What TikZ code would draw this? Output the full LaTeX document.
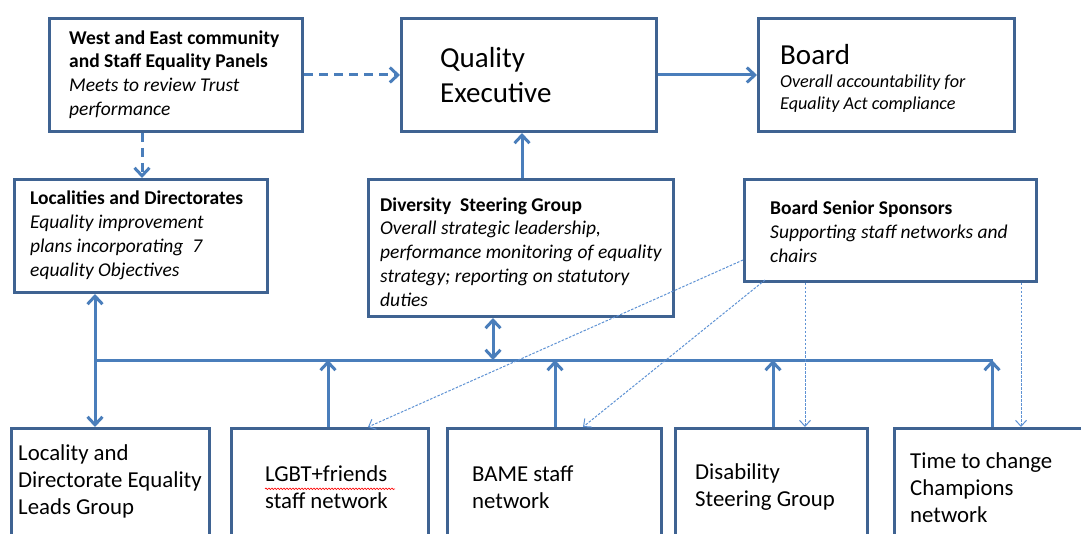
\documentclass[tikz,border=0pt]{standalone}
\usepackage{fontspec}
\setmainfont{Carlito}
\usetikzlibrary{arrows.meta,decorations.pathmorphing}
\definecolor{boxblue}{HTML}{3F6392}
\definecolor{linkblue}{HTML}{4A7EBB}
\definecolor{thinblue}{HTML}{5E92D4}
\begin{document}
\begin{tikzpicture}[x=1pt,y=-1pt,
  panel/.style={draw=boxblue,line width=3pt,fill=white,inner sep=0pt,anchor=north west},
  txt/.style={inner sep=0pt,anchor=west,align=left,font=\fontsize{19.5}{23.8}\selectfont},
  bigtxt/.style={inner sep=0pt,anchor=west,align=left,font=\fontsize{29}{35}\selectfont},
  lowtxt/.style={inner sep=0pt,anchor=west,align=left,font=\fontsize{22.8}{27}\selectfont},
  link/.style={draw=linkblue,line width=3pt,-{Straight Barb[length=8pt,width=15pt]}},
  twoway/.style={link,{Straight Barb[length=8pt,width=15pt]}-{Straight Barb[length=8pt,width=15pt]}},
  dashlink/.style={link,dash pattern=on 9pt off 6pt},
  sponsor/.style={draw=thinblue,line width=1pt,dash pattern=on 2.5pt off 1.5pt,
    -{Straight Barb[length=6pt,width=11pt,line width=1pt]}}
]
\useasboundingbox (0,0) rectangle (1081,534);
\fill[white] (0,0) rectangle (1081,534);
\clip (0,0) rectangle (1081,534);

% top row
\node[panel,minimum width=253pt,minimum height=113pt] (we) at (48,17) {};
\node[panel,minimum width=255pt,minimum height=113pt] (qe) at (400,17) {};
\node[panel,minimum width=256pt,minimum height=113pt] (bd) at (757,17) {};
% middle row
\node[panel,minimum width=253pt,minimum height=113pt] (loc) at (13,178) {};
\node[panel,minimum width=305pt,minimum height=137pt] (div) at (367,178) {};
\node[panel,minimum width=292pt,minimum height=102pt] (bss) at (743,178) {};
% bottom row (runs off the lower edge)
\node[panel,minimum width=198pt,minimum height=140pt] (g1) at (10,427) {};
\node[panel,minimum width=197pt,minimum height=140pt] (g2) at (230,427) {};
\node[panel,minimum width=214pt,minimum height=140pt] (g3) at (446,427) {};
\node[panel,minimum width=192pt,minimum height=140pt] (g4) at (674,427) {};
\node[panel,minimum width=200pt,minimum height=140pt] (g5) at (893,427) {};

% texts
\node[txt] (weT) at (69,74.5) {\textbf{West and East community}\\\textbf{and Staff Equality Panels}\\\textit{Meets to review Trust}\\\textit{performance}};
\node[bigtxt] (qeT) at (440,75.5) {Quality\\Executive};
\node[bigtxt] (bdT) at (780,55) {Board};
\node[txt,font=\fontsize{18.2}{22}\selectfont\itshape] (bdS) at (780,94) {Overall accountability for\\Equality Act compliance};
\node[txt] (locT) at (30,235.5) {\textbf{Localities and Directorates}\\\textit{Equality improvement}\\\textit{plans incorporating\ \ 7}\\\textit{equality Objectives}};
\node[txt] (divT) at (380,252) {\textbf{Diversity\ \ Steering Group}\\\textit{Overall strategic leadership,}\\\textit{performance monitoring of equality}\\\textit{strategy;\ reporting on statutory}\\\textit{duties}};
\node[txt] (bssT) at (770,232) {\textbf{Board Senior Sponsors}\\\textit{Supporting staff networks and}\\\textit{chairs}};
\node[lowtxt] (g1T) at (18,481) {Locality and\\Directorate Equality\\Leads Group};
\node[lowtxt] (g2T) at (265,487.5) {LGBT+friends\\staff network};
\node[lowtxt] (g3T) at (472,487.5) {BAME staff\\network};
\node[lowtxt] (g4T) at (695,487.5) {Disability\\Steering Group};
\node[lowtxt] (g5T) at (910,488) {Time to change\\Champions\\network};
% spell-check squiggle under the network name
\draw[red,line width=0.6pt,decorate,decoration={snake,amplitude=0.8pt,segment length=3pt}]
  ([yshift=-23pt]g2T.north west) -- ++(130,0);

% connectors between the top boxes
\draw[dashlink] (we) -- (qe);
\draw[link] (qe) -- (bd);
\coordinate (xwe) at (142,0);
\draw[dashlink] (we.south -| xwe) -- (loc.north -| xwe);
\coordinate (xdiv) at (522,0);
\draw[link] (div.north -| xdiv) -- (qe.south -| xdiv);

% shared bus
\coordinate (busL) at (95,360);
\coordinate (busR) at (993,360);
\draw[draw=linkblue,line width=3pt] (busL) -- (busR);
\draw[twoway] (loc.south -| busL) -- (g1.north -| busL);
\coordinate (xd) at (493,360);
\draw[twoway] (div.south -| xd) -- (xd);
\coordinate (x2) at (328,360);
\coordinate (x3) at (555,360);
\coordinate (x4) at (773,360);
\coordinate (x5) at (992,360);
\draw[link] (g2.north -| x2) -- (x2);
\draw[link] (g3.north -| x3) -- (x3);
\draw[link] (g4.north -| x4) -- (x4);
\draw[link] (g5.north -| x5) -- (x5);

% sponsor links
\coordinate (s1) at (743,260);
\coordinate (s2) at (765,280);
\coordinate (e1) at (368,427);
\coordinate (e2) at (583,427);
\draw[sponsor] (s1) -- (e1);
\draw[sponsor] (s2) -- (e2);
\coordinate (x6) at (805,0);
\coordinate (x7) at (1021,0);
\draw[sponsor] (bss.south -| x6) -- (g4.north -| x6);
\draw[sponsor] (bss.south -| x7) -- (g5.north -| x7);
\end{tikzpicture}
\end{document}
